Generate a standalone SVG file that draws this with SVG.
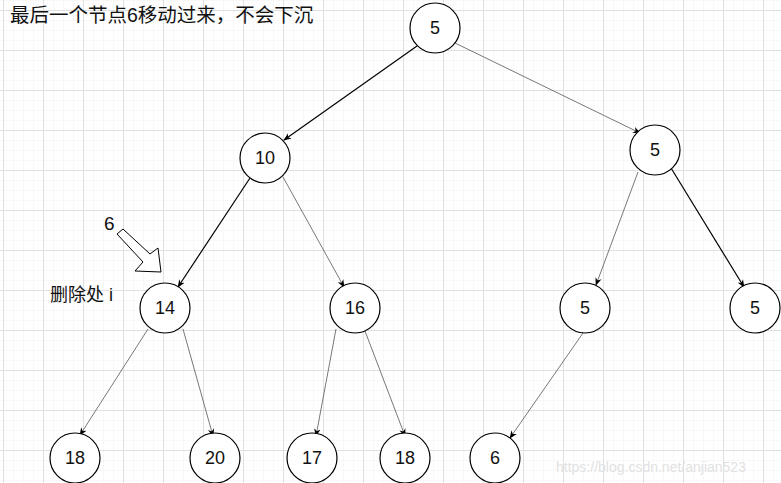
<svg xmlns="http://www.w3.org/2000/svg" width="781" height="483" viewBox="0 0 781 483">
<defs>
<pattern id="minor" x="3" y="0" width="10" height="10" patternUnits="userSpaceOnUse">
<path d="M0 0H10M0 0V10" fill="none" stroke="#f2f2f2" stroke-width="1"/>
</pattern>
<pattern id="major" x="3" y="10" width="40" height="40" patternUnits="userSpaceOnUse">
<path d="M0 0.5H40M0.5 0V40" fill="none" stroke="#e0e0e0" stroke-width="1"/>
</pattern>
<marker id="ah" viewBox="0 0 10 10" refX="9" refY="5" markerWidth="8" markerHeight="8" markerUnits="userSpaceOnUse" orient="auto">
<path d="M0 1 L10 5 L0 9 L3 5 Z" fill="#000"/>
</marker>
</defs>
<style>
.node circle{fill:#fff;stroke:#000;stroke-width:1.2}
.node text{font-family:"Liberation Sans",Arial,sans-serif;font-size:18px;fill:#111;text-anchor:middle;dominant-baseline:central}
.dk{stroke:#000;stroke-width:1.2;fill:none}
.lt{stroke:#555;stroke-width:0.8;fill:none}
.lbl{font-family:"Liberation Sans","Noto Sans CJK SC",sans-serif;fill:#111}
</style>
<rect width="781" height="483" fill="#fff"/>
<rect width="781" height="483" fill="url(#minor)"/>
<rect width="781" height="483" fill="url(#major)"/>
<g id="connectors">
<line class="dk" x1="417" y1="46" x2="284" y2="140" marker-end="url(#ah)"/>
<line class="lt" x1="455" y1="43" x2="640" y2="133" marker-end="url(#ah)"/>
<line class="dk" x1="250" y1="178" x2="178" y2="287" marker-end="url(#ah)"/>
<line class="lt" x1="283" y1="177" x2="344" y2="287" marker-end="url(#ah)"/>
<line class="lt" x1="638" y1="172" x2="596" y2="285" marker-end="url(#ah)"/>
<line class="dk" x1="671" y1="168" x2="744" y2="287" marker-end="url(#ah)"/>
<line class="lt" x1="148" y1="329" x2="80" y2="435" marker-end="url(#ah)"/>
<line class="lt" x1="183" y1="329" x2="213" y2="436" marker-end="url(#ah)"/>
<line class="lt" x1="336" y1="329" x2="316" y2="436" marker-end="url(#ah)"/>
<line class="lt" x1="365" y1="331" x2="405" y2="436" marker-end="url(#ah)"/>
<line class="lt" x1="583" y1="333" x2="510" y2="438" marker-end="url(#ah)"/>
</g>
<g id="n-root" class="node"><circle cx="435" cy="28" r="25"/><text x="435" y="28">5</text></g>
<g id="n-10" class="node"><circle cx="265" cy="158" r="25"/><text x="265" y="158">10</text></g>
<g id="n-5r" class="node"><circle cx="655" cy="150" r="25"/><text x="655" y="150">5</text></g>
<g id="n-14" class="node"><circle cx="165" cy="308" r="25"/><text x="165" y="308">14</text></g>
<g id="n-16" class="node"><circle cx="355" cy="308" r="25"/><text x="355" y="308">16</text></g>
<g id="n-5a" class="node"><circle cx="585" cy="308" r="25"/><text x="585" y="308">5</text></g>
<g id="n-5b" class="node"><circle cx="755" cy="308" r="25"/><text x="755" y="308">5</text></g>
<g id="n-18a" class="node"><circle cx="75" cy="458" r="25"/><text x="75" y="458">18</text></g>
<g id="n-20" class="node"><circle cx="215" cy="458" r="25"/><text x="215" y="458">20</text></g>
<g id="n-17" class="node"><circle cx="312" cy="458" r="25"/><text x="312" y="458">17</text></g>
<g id="n-18b" class="node"><circle cx="405" cy="458" r="25"/><text x="405" y="458">18</text></g>
<g id="n-6" class="node"><circle cx="495" cy="458" r="25"/><text x="495" y="458">6</text></g>
<g id="pointer">
<polygon points="123,229 150,254 158,248 161,272 135,271 143,262 117,234" fill="#fff" stroke="#000" stroke-width="1"/>
<text class="lbl" x="104" y="230" font-size="19">6</text>
</g>
<text class="lbl" x="10" y="22" font-size="19.5">最后一个节点6移动过来，不会下沉</text>
<text class="lbl" x="50" y="301" font-size="18">删除处 i</text>
<text x="556" y="472" font-family="'Liberation Sans',Arial,sans-serif" font-size="14" fill="#e2e2e2">https://blog.csdn.net/anjian523</text>
</svg>
